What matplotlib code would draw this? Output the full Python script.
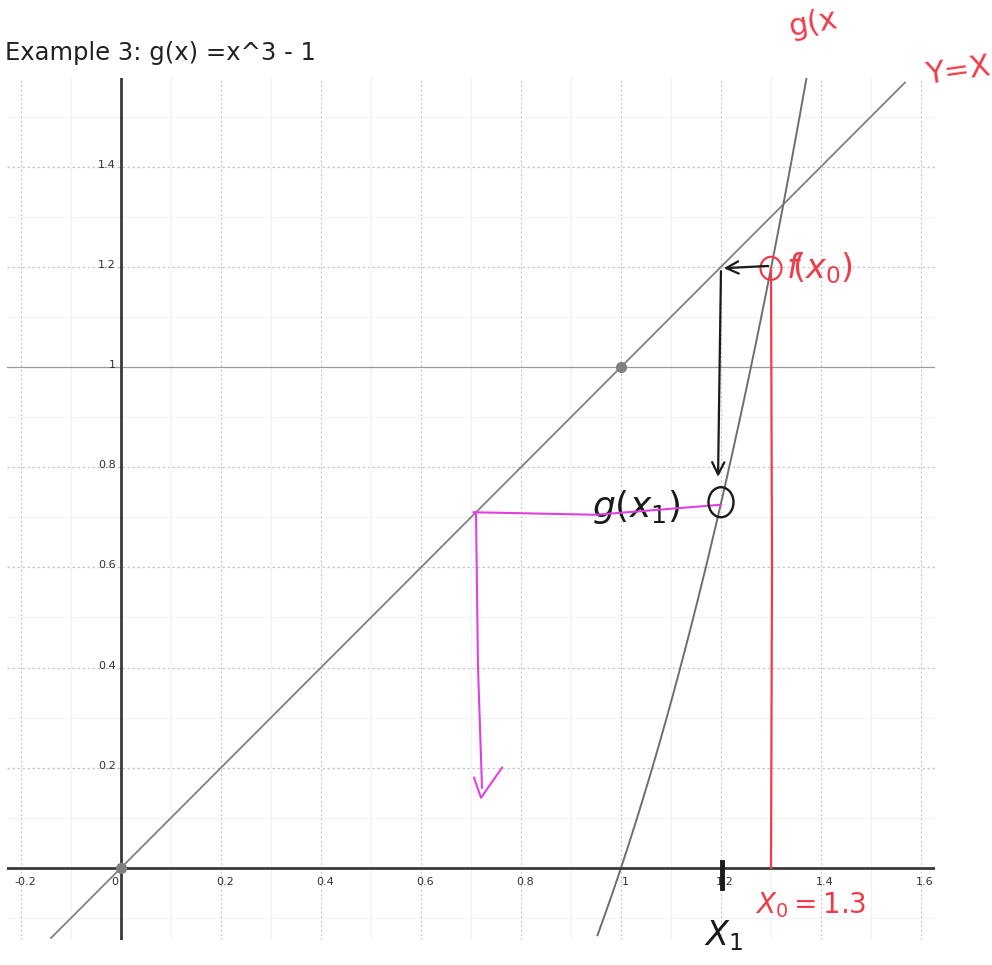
import numpy as np
import matplotlib.pyplot as plt
from matplotlib.patches import Ellipse

# iteration example: g(x) = x^3 - 1, starting at x0 = 1.3
title = 'Example 3: g(x) =x^3 - 1'
x_ticks = [-0.2, 0, 0.2, 0.4, 0.6, 0.8, 1, 1.2, 1.4, 1.6]
y_ticks = [0.2, 0.4, 0.6, 0.8, 1, 1.2, 1.4]
fixed_points = [(0, 0), (1, 1)]
x0 = 1.3
x1 = 1.2
g_x1 = 0.72   # where the sketch marks g(x1)
landing = 0.71  # where the pink line meets y = x

def g(x):
  return x**3 - 1

xlim = (-0.228, 1.628)
ylim = (-0.144, 1.577)

fig = plt.figure(figsize=(9.92, 9.65), dpi=100)
ax = fig.add_axes([7/992, 1 - 940/965, 928/992, 862/965])
ax.set_xlim(*xlim)
ax.set_ylim(*ylim)
ax.axis('off')

# grid: faint minor lines every 0.1, dotted major lines every 0.2
for v in np.arange(-0.1, 1.65, 0.2):
  ax.axvline(v, color='#f2f2f2', lw=0.8, zorder=0)
for v in np.arange(-0.1, 1.55, 0.2):
  ax.axhline(v, color='#f2f2f2', lw=0.8, zorder=0)
for v in x_ticks:
  ax.axvline(v, color='#c8c8c8', lw=0.8, ls=(0, (2, 2)), zorder=1)
for v in y_ticks:
  c = '#9a9a9a' if v == 1 else '#c8c8c8'
  ax.axhline(v, color=c, lw=0.9, ls='-' if v == 1 else (0, (2, 2)), zorder=1)

# axes
ax.axhline(0, color='#3a3a3a', lw=2, zorder=3)
ax.axvline(0, color='#3a3a3a', lw=2, zorder=3)

for v in x_ticks:
  lbl = '0' if v == 0 else ('%g' % v)
  off = -0.012 if v == 0 else 0.008
  ax.text(v + off, -0.018, lbl, fontsize=8, color='#333333', ha='center', va='top', zorder=4)
for v in y_ticks:
  ax.text(-0.01, v + 0.004, '%g' % v, fontsize=8, color='#333333', ha='right', va='center', zorder=4)

# y = x and the curve
xs = np.linspace(-0.14, 1.568, 50)
ax.plot(xs, xs, color='#808080', lw=1.3, zorder=2)
xc = np.linspace(0.953, 1.372, 300)
ax.plot(xc, g(xc), color='#6e6e6e', lw=1.4, zorder=2)
for px, py in fixed_points:
  ax.plot(px, py, 'o', color='#808080', ms=7, zorder=4)

fig.text(5/992, 1 - 60/965, title, fontsize=17.5, color='#222222', ha='left', va='baseline')

# red: start at x0, go up to g(x0)
red = '#ee3d4a'
ax.plot([x0, x0 + 0.002, x0], [0, 0.6, g(x0)], color=red, lw=1.6, zorder=5)
ax.add_patch(Ellipse((x0, g(x0)), 0.042, 0.046, fill=False, ec=red, lw=1.6, zorder=5))
ax.text(x0 + 0.03, g(x0), r'$\mathit{f}\!(x_0)$', fontsize=24, color=red, ha='left', va='center')
ax.text(x0 + 0.08, -0.075, r'$X_0 = 1.3$', fontsize=20, color=red, ha='center', va='center')
ax.text(1.385, 1.685, 'g(x', fontsize=22, color=red, ha='center', va='center', rotation=10, clip_on=False)
ax.text(1.675, 1.59, 'Y=X', fontsize=22, color=red, ha='center', va='center', rotation=8, clip_on=False)

# black: across to y = x, then down to the curve
ax.annotate('', xy=(x1, g(x0)), xytext=(x0, g(x0) + 0.005),
            arrowprops=dict(arrowstyle='->', color='#1a1a1a', lw=1.6, mutation_scale=22), zorder=6)
ax.annotate('', xy=(x1 - 0.006, g_x1 + 0.055), xytext=(x1, g(x0)),
            arrowprops=dict(arrowstyle='->', color='#1a1a1a', lw=1.6, mutation_scale=22), zorder=6)
ax.add_patch(Ellipse((x1, g_x1 + 0.01), 0.05, 0.06, fill=False, ec='#1a1a1a', lw=1.7, zorder=6))
ax.text(1.03, 0.72, r'$g(x_1)$', fontsize=26, color='#1a1a1a', ha='center', va='center')
ax.plot([x1 + 0.002, x1 + 0.002], [-0.04, 0.012], color='#1a1a1a', lw=3.5, zorder=6)
ax.text(x1 + 0.005, -0.135, r'$X_1$', fontsize=24, color='#1a1a1a', ha='center', va='center', clip_on=False)

# pink: across to y = x, then down
pink = '#e040e0'
ax.plot([x1, 0.95, landing - 0.005], [g_x1 + 0.005, 0.705, landing], color=pink, lw=1.5, zorder=5)
ax.plot([landing, landing + 0.004, landing + 0.012], [landing, 0.4, 0.16], color=pink, lw=1.5, zorder=5)
ax.plot([landing - 0.004, landing + 0.01, landing + 0.052], [0.18, 0.14, 0.2], color=pink, lw=1.5, zorder=5)

fig.savefig('out.png', dpi=100)
